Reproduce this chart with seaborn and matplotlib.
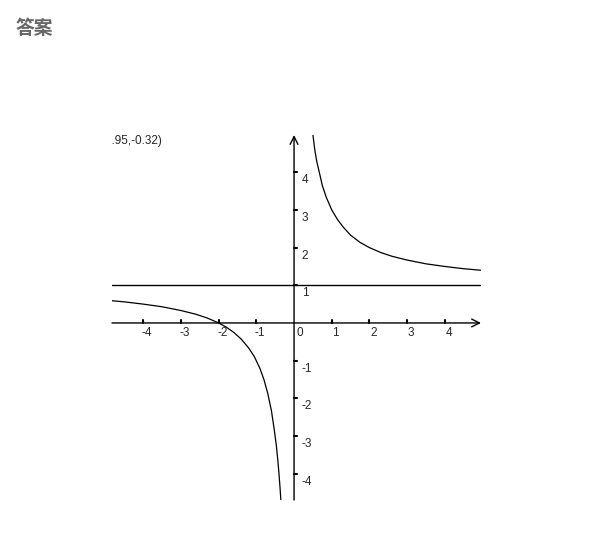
import matplotlib
matplotlib.use("Agg")
import matplotlib.pyplot as plt
import seaborn as sns
import pandas as pd

right_x = [0.50, 0.55, 0.60, 0.67, 0.75, 0.85, 1.0, 1.15, 1.3, 1.5, 1.75,
           2.0, 2.3, 2.6, 3.0, 3.5, 4.0, 4.5, 4.95]
right_y = [5.0, 4.6, 4.3, 4.0, 3.65, 3.35, 3.0, 2.75, 2.55, 2.33, 2.14,
           2.0, 1.87, 1.77, 1.67, 1.57, 1.5, 1.44, 1.40]
left_x = [-4.83, -4.5, -4.0, -3.5, -3.0, -2.6, -2.3, -2.0, -1.8, -1.6, -1.4,
          -1.2, -1.05, -0.9, -0.8, -0.7, -0.6, -0.53, -0.47, -0.43, -0.40,
          -0.37, -0.35]
left_y = [0.59, 0.56, 0.50, 0.43, 0.33, 0.23, 0.13, 0.0, -0.11, -0.25, -0.43,
          -0.67, -0.9, -1.22, -1.5, -1.86, -2.33, -2.8, -3.25, -3.65, -4.0,
          -4.4, -4.7]
asymptote_y = 1
x_ticks = [-4, -3, -2, -1, 1, 2, 3, 4]
y_ticks = [4, 3, 2, 1, -1, -2, -3, -4]
point_label = "(-1.95,-0.32)"
title = "答案"

xlim = (-4.83, 4.96)
ylim = (-4.70, 4.99)

sns.set_style("white")
plt.rcParams["font.family"] = ["Liberation Sans", "DejaVu Sans"]

fig = plt.figure(figsize=(6.05, 5.51), dpi=100)
ax = fig.add_axes([112 / 605, 51 / 551, 369 / 605, 365 / 551])
ax.set_xlim(*xlim)
ax.set_ylim(*ylim)
ax.axis("off")

df_r = pd.DataFrame({"x": right_x, "y": right_y})
df_l = pd.DataFrame({"x": left_x, "y": left_y})
sns.lineplot(data=df_r, x="x", y="y", sort=False, estimator=None,
             color="black", lw=0.9, ax=ax)
sns.lineplot(data=df_l, x="x", y="y", sort=False, estimator=None,
             color="black", lw=0.9, ax=ax)

# horizontal asymptote
ax.axhline(asymptote_y, color="black", lw=1)

# axes with arrows
arrow = dict(arrowstyle="->", lw=1, color="black", mutation_scale=14,
             shrinkA=0, shrinkB=0)
ax.annotate("", xy=(xlim[1], 0), xytext=(xlim[0], 0), arrowprops=arrow,
            annotation_clip=False)
ax.annotate("", xy=(0, ylim[1]), xytext=(0, ylim[0]), arrowprops=arrow,
            annotation_clip=False)

# ticks and labels
tick = 0.08
fs = 8.5
for t in x_ticks:
    ax.plot([t, t], [0, tick], color="black", lw=1.5)
    ax.text(t + 0.1, -0.12, str(t), ha="center", va="top", fontsize=fs)
ax.text(0.15, -0.12, "0", ha="center", va="top", fontsize=fs)
for t in y_ticks:
    ax.plot([0, tick], [t, t], color="black", lw=1.5)
    ax.text(0.2, t - 0.05, str(t), ha="left", va="top", fontsize=fs)

ax.text(-3.5, 4.83, point_label, ha="right", va="center", fontsize=fs,
        clip_on=True)

fig.text(16 / 605, 1 - 28 / 551, title, ha="left", va="center",
         fontsize=13.5, color="#666666", fontweight="bold",
         family=["Noto Sans CJK SC", "DejaVu Sans"])

fig.savefig("out.png", dpi=100, facecolor="white")
